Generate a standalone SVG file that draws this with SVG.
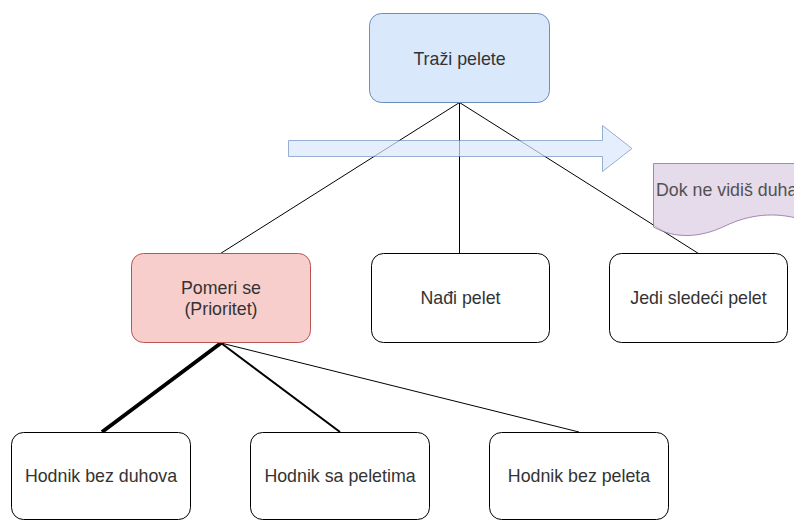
<svg xmlns="http://www.w3.org/2000/svg" width="794" height="520" viewBox="0 0 794 520">
<style>
.box{fill:#ffffff;stroke:#000000;stroke-width:1}
.lbl{font-family:"Liberation Sans",Arial,sans-serif;font-size:17.8px;fill:#333333;text-anchor:middle}
.ln{stroke:#000000;fill:none}
</style>
<rect width="794" height="520" fill="#ffffff"/>
<g id="connectors">
<line class="ln" x1="459.5" y1="102.5" x2="220.5" y2="253.5" stroke-width="1"/>
<line class="ln" x1="459.5" y1="102.5" x2="459.5" y2="253.5" stroke-width="1"/>
<line class="ln" x1="459.5" y1="102.5" x2="698.5" y2="253.5" stroke-width="1"/>
<line class="ln" x1="221" y1="343" x2="102" y2="432" stroke-width="4"/>
<line class="ln" x1="221" y1="343" x2="340" y2="432" stroke-width="2"/>
<line class="ln" x1="221" y1="343" x2="579" y2="432" stroke-width="1"/>
</g>
<g id="arrow" opacity="0.7">
<path d="M288.5,140.5 H602.5 V125.5 L632,148.5 L602.5,171.5 V156.5 H288.5 Z" fill="#dae8fc" stroke="#6c8ebf" stroke-width="1"/>
</g>
<g id="tape" opacity="0.85">
<path d="M653.5,163.5 H800 V219 C775,212 750,214 725,226 C700,238 675,239 653.5,227 Z" fill="#e1d5e7" stroke="#9673a6" stroke-width="1"/>
<text x="656" y="196" class="lbl" style="text-anchor:start">Dok ne vidiš duha</text>
</g>
<g id="trazi">
<rect x="369.5" y="13.5" width="180" height="89" rx="12" fill="#dae8fc" stroke="#6c8ebf"/>
<text x="459.5" y="64.5" class="lbl">Traži pelete</text>
</g>
<g id="pomeri">
<rect x="131.5" y="253.5" width="179" height="89" rx="12" fill="#f8cecc" stroke="#b85450"/>
<text x="221" y="294" class="lbl">Pomeri se</text>
<text x="221" y="314.5" class="lbl">(Prioritet)</text>
</g>
<g id="nadji">
<rect x="371.5" y="253.5" width="178" height="89" rx="12" class="box"/>
<text x="460.5" y="304" class="lbl">Nađi pelet</text>
</g>
<g id="jedi">
<rect x="609.5" y="253.5" width="178" height="89" rx="12" class="box"/>
<text x="698.5" y="304" class="lbl">Jedi sledeći pelet</text>
</g>
<g id="hodnik1">
<rect x="11.5" y="432.5" width="179" height="87" rx="12" class="box"/>
<text x="101" y="482" class="lbl">Hodnik bez duhova</text>
</g>
<g id="hodnik2">
<rect x="250.5" y="432.5" width="179" height="87" rx="12" class="box"/>
<text x="340" y="482" class="lbl">Hodnik sa peletima</text>
</g>
<g id="hodnik3">
<rect x="489.5" y="432.5" width="179" height="87" rx="12" class="box"/>
<text x="579" y="482" class="lbl">Hodnik bez peleta</text>
</g>
</svg>
